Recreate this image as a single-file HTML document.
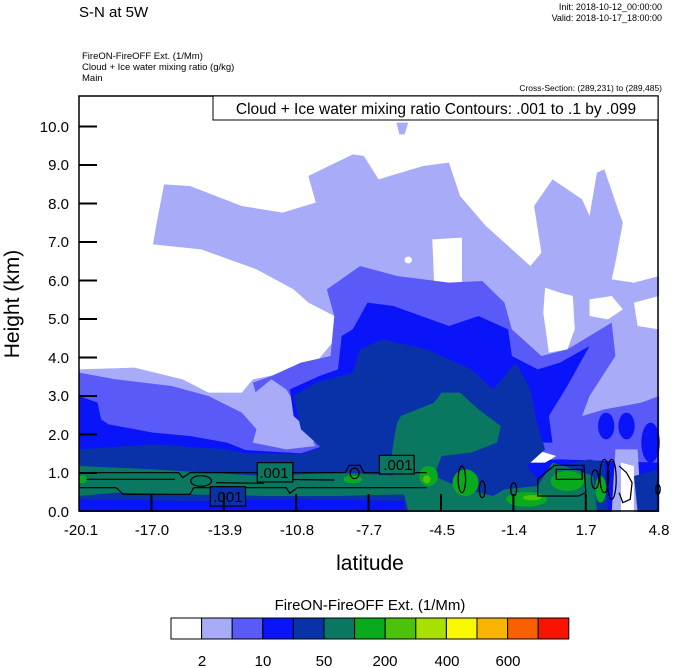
<!DOCTYPE html>
<html><head><meta charset="utf-8"><style>
html,body{margin:0;padding:0;background:#fff;}
svg{display:block;font-family:"Liberation Sans",sans-serif;}
</style></head><body>
<svg width="674" height="668" viewBox="0 0 674 668" xmlns="http://www.w3.org/2000/svg">
<rect width="674" height="668" fill="#fff"/>
<text x="79" y="17" font-size="15">S-N at 5W</text>
<text x="662" y="10" font-size="9" text-anchor="end">Init: 2018-10-12_00:00:00</text>
<text x="662" y="21" font-size="9" text-anchor="end">Valid: 2018-10-17_18:00:00</text>
<text x="82" y="59" font-size="9.5">FireON-FireOFF Ext.   (1/Mm)</text>
<text x="82" y="70" font-size="9.5">Cloud + Ice water mixing ratio   (g/kg)</text>
<text x="82" y="81" font-size="9.5">Main</text>
<text x="662" y="91" font-size="8.5" text-anchor="end">Cross-Section: (289,231) to (289,485)</text>

<g transform="translate(79,96) scale(0.36995,0.33333)">
<path fill="#a8acf8" d="M0,820 L150,815 L280,850 L350,890 L440,890 L470,850 L560,830 L640,800 L700,720 L690,660 L620,620 L580,580 L480,520 L330,460 L200,445 L210,380 L230,265 L300,270 L440,330 L550,350 L640,320 L620,240 L740,175 L770,180 L810,250 L930,210 L1000,200 L1030,300 L1100,390 L1180,470 L1220,510 L1250,470 L1230,330 L1280,250 L1360,310 L1380,360 L1400,230 L1420,220 L1460,350 L1470,380 L1450,500 L1440,550 L1500,560 L1568,540 L1568,1248 L0,1248 Z"/>
<path fill="#a8acf8" d="M858,80 L890,80 L880,115 L866,115 Z"/>
<path fill="#fff" d="M955,430 L1035,425 L1035,560 L960,565 Z"/>
<circle cx="890" cy="492" r="10" fill="#fff"/>
<path fill="#fff" d="M1260,575 L1300,590 L1335,600 L1340,700 L1320,760 L1270,770 L1255,650 Z"/>
<path fill="#fff" d="M1380,610 L1440,600 L1470,640 L1430,670 L1380,660 Z"/>
<path fill="#fff" d="M1500,620 L1568,600 L1568,700 L1510,690 Z"/>
<path fill="#5a5af8" d="M0,830 L100,850 L250,870 L350,900 L440,950 L480,1000 L470,1040 L560,1060 L640,1050 L600,990 L540,940 L480,900 L470,860 L520,840 L600,800 L680,780 L690,660 L670,580 L760,510 L860,540 L1000,560 L1090,555 L1150,620 L1170,700 L1250,780 L1320,760 L1440,680 L1450,780 L1380,900 L1360,960 L1420,940 L1520,920 L1568,900 L1568,1248 L0,1248 Z"/>
<path fill="#a8acf8" d="M465,900 L520,850 L560,880 L600,950 L640,1020 L630,1050 L560,1055 L470,1040 L480,1000 Z"/>
<path fill="#0a14f8" d="M0,900 L50,920 L60,970 L80,985 L200,1010 L300,1020 L400,1040 L450,1062 L600,1072 L660,1050 L640,1020 L580,960 L570,880 L650,840 L700,820 L710,720 L740,700 L780,620 L850,630 L1000,690 L1080,660 L1160,700 L1170,780 L1240,820 L1300,800 L1380,750 L1320,870 L1270,960 L1280,1040 L1140,1040 L1150,1100 L1300,1090 L1568,1100 L1568,1248 L0,1248 Z"/>
<ellipse cx="1425" cy="990" rx="22" ry="40" fill="#0a14f8"/>
<ellipse cx="1480" cy="990" rx="22" ry="40" fill="#0a14f8"/>
<ellipse cx="1545" cy="1040" rx="25" ry="60" fill="#0a14f8"/>
<path fill="#fff" d="M1150,1060 L1200,1050 L1290,1080 L1260,1100 L1180,1100 Z"/>
<path fill="#a8acf8" d="M1450,1060 L1510,1060 L1520,1248 L1440,1248 Z"/>
<path fill="#fff" d="M1465,1100 L1500,1110 L1500,1248 L1465,1248 Z"/>
<path fill="#0a32a8" d="M0,1060 L200,1045 L400,1060 L450,1072 L600,1075 L655,1055 L600,1000 L580,900 L640,860 L740,830 L760,760 L820,730 L940,760 L1060,820 L1120,880 L1180,800 L1220,880 L1240,990 L1260,1060 L1210,1110 L1240,1150 L1300,1110 L1380,1090 L1420,1100 L1430,1248 L0,1248 Z"/>
<path fill="#0a32a8" d="M1500,1140 L1568,1120 L1568,1248 L1510,1248 Z"/>
<path fill="#0a14f8" d="M0,1210 L300,1215 L600,1210 L880,1215 L880,1248 L0,1248 Z"/>
<path fill="#0a7860" d="M860,980 L870,960 L960,920 L980,890 L1030,890 L1080,940 L1140,990 L1130,1040 L1060,1070 L980,1080 L960,1140 L1040,1180 L1120,1200 L1150,1180 L1240,1170 L1280,1100 L1340,1120 L1390,1140 L1400,1248 L890,1248 L880,1200 L840,1120 L850,1040 Z"/>
<path fill="#0a7860" d="M0,1110 L200,1120 L500,1140 L700,1130 L880,1140 L880,1195 L700,1200 L500,1200 L300,1195 L100,1190 L0,1200 Z"/>
<ellipse cx="945" cy="1140" rx="25" ry="30" fill="#0aaa1e"/>
<ellipse cx="1045" cy="1160" rx="35" ry="40" fill="#0aaa1e"/>
<ellipse cx="1210" cy="1210" rx="55" ry="22" fill="#0aaa1e"/>
<ellipse cx="1320" cy="1155" rx="45" ry="30" fill="#0aaa1e"/>
<ellipse cx="1410" cy="1180" rx="15" ry="40" fill="#0aaa1e"/>
<ellipse cx="740" cy="1150" rx="25" ry="12" fill="#0aaa1e"/>
<ellipse cx="10" cy="1150" rx="12" ry="12" fill="#0aaa1e"/>
<ellipse cx="1225" cy="1205" rx="25" ry="8" fill="#4cc20a"/>
<ellipse cx="940" cy="1150" rx="10" ry="12" fill="#4cc20a"/>
<g fill="none" stroke="#000" stroke-width="3.5">
<path d="M0,1130 L270,1130 L280,1145 L300,1130 L720,1130 L730,1108 L760,1108 L770,1130 L940,1130 M0,1175 L100,1175 L120,1195 L300,1195 L310,1175 L560,1175 L570,1192 L590,1175 L940,1175 M20,1150 L260,1150 M370,1160 L500,1162 M520,1150 L690,1152"/>
<ellipse cx="330" cy="1155" rx="28" ry="16"/>
<ellipse cx="745" cy="1132" rx="12" ry="16"/>
<ellipse cx="1035" cy="1150" rx="10" ry="40"/>
<ellipse cx="1090" cy="1180" rx="8" ry="25"/>
<ellipse cx="1175" cy="1180" rx="8" ry="20"/>
<path d="M1240,1150 L1285,1108 L1365,1108 L1370,1190 L1350,1200 L1240,1200 Z M1290,1120 L1360,1120 L1360,1150 L1290,1150 Z"/>
<ellipse cx="1395" cy="1150" rx="10" ry="28"/>
<ellipse cx="1420" cy="1140" rx="12" ry="50"/>
<ellipse cx="1440" cy="1150" rx="12" ry="60"/>
<path d="M1460,1110 L1480,1130 L1495,1160 L1490,1210 L1470,1220 L1460,1190"/>
<ellipse cx="1565" cy="1180" rx="6" ry="15"/>
<rect x="482" y="1100" width="96" height="58"/>
<rect x="812" y="1078" width="94" height="56"/>
<rect x="355" y="1172" width="95" height="58"/>
</g>
<rect x="484" y="1102" width="92" height="54" fill="#0a7860"/>
<rect x="814" y="1080" width="90" height="52" fill="#0a7860"/>
<rect x="357" y="1174" width="91" height="54" fill="#0a32a8"/>
</g>
<g font-size="15" text-anchor="middle">
<text x="274" y="478">.001</text>
<text x="398" y="470">.001</text>
<text x="228" y="502">.001</text>
</g>
<rect x="79" y="96" width="579" height="415" fill="none" stroke="#000" stroke-width="1.5"/>
<rect x="213" y="96" width="445" height="24" fill="#fff" stroke="#000" stroke-width="1"/>
<text x="436" y="114" font-size="15.5" text-anchor="middle">Cloud + Ice water mixing ratio Contours: .001 to .1 by .099</text>
<g stroke="#000" stroke-width="2">
<path d="M79,126.5h18M79,165h18M79,203.5h18M79,242h18M79,280.5h18M79,319h18M79,357.5h18M79,396h18M79,434.5h18M79,473h18"/>
<path d="M151.4,511v-17M223.8,511v-17M296.2,511v-17M368.6,511v-17M441,511v-17M513.4,511v-17M585.8,511v-17"/>
</g>
<g font-size="15" text-anchor="end">
<text x="69" y="132">10.0</text><text x="69" y="170">9.0</text><text x="69" y="209">8.0</text>
<text x="69" y="247">7.0</text><text x="69" y="286">6.0</text><text x="69" y="324">5.0</text>
<text x="69" y="363">4.0</text><text x="69" y="401">3.0</text><text x="69" y="440">2.0</text>
<text x="69" y="478">1.0</text><text x="69" y="517">0.0</text>
</g>
<g font-size="15" text-anchor="middle">
<text x="81" y="535">-20.1</text><text x="152" y="535">-17.0</text><text x="225" y="535">-13.9</text>
<text x="297" y="535">-10.8</text><text x="369" y="535">-7.7</text><text x="442" y="535">-4.5</text>
<text x="514" y="535">-1.4</text><text x="586" y="535">1.7</text><text x="659" y="535">4.8</text>
</g>
<text x="370" y="570" font-size="21" text-anchor="middle">latitude</text>
<text transform="translate(19,304) rotate(-90)" font-size="21" text-anchor="middle">Height (km)</text>
<text x="370" y="610" font-size="15" text-anchor="middle">FireON-FireOFF Ext.  (1/Mm)</text>
<g stroke="#000" stroke-width="1">
<rect x="171" y="618" width="30.6" height="21" fill="#fff"/>
<rect x="201.6" y="618" width="30.6" height="21" fill="#a8acf8"/>
<rect x="232.2" y="618" width="30.6" height="21" fill="#5a5af8"/>
<rect x="262.8" y="618" width="30.6" height="21" fill="#0a14f8"/>
<rect x="293.4" y="618" width="30.6" height="21" fill="#0a32a8"/>
<rect x="324" y="618" width="30.6" height="21" fill="#0a7860"/>
<rect x="354.6" y="618" width="30.6" height="21" fill="#0aaa1e"/>
<rect x="385.2" y="618" width="30.6" height="21" fill="#4cc20a"/>
<rect x="415.8" y="618" width="30.6" height="21" fill="#a8e000"/>
<rect x="446.4" y="618" width="30.6" height="21" fill="#f8f800"/>
<rect x="477" y="618" width="30.6" height="21" fill="#f8b400"/>
<rect x="507.6" y="618" width="30.6" height="21" fill="#f86000"/>
<rect x="538.2" y="618" width="30.6" height="21" fill="#f81400"/>
</g>
<g font-size="15" text-anchor="middle">
<text x="202" y="666">2</text><text x="263" y="666">10</text><text x="324" y="666">50</text>
<text x="385" y="666">200</text><text x="447" y="666">400</text><text x="508" y="666">600</text>
</g>
</svg>
</body></html>
